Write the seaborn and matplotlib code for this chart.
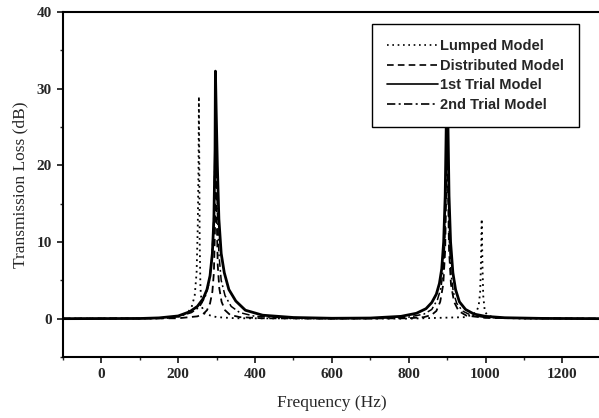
import numpy as np
import pandas as pd
import matplotlib
matplotlib.use("Agg")
import matplotlib.pyplot as plt
import seaborn as sns

# Values (frequency in Hz, transmission loss in dB)
lumped_freq = [-100, 150, 200, 225, 235, 243, 248, 251, 253, 254, 255, 256, 258, 262, 270, 300, 350,
               800, 950, 975, 982, 986, 988, 990, 992, 994, 998, 1005, 1030, 1100, 1300]
lumped_tl = [0, 0.02, 0.2, 0.8, 1.5, 3.0, 6.0, 12.0, 20.0, 29.0, 20.0, 10.0, 4.0, 1.5, 0.6, 0.2, 0.05,
             0.0, 0.2, 0.8, 1.6, 3.5, 7.0, 13.0, 7.0, 3.0, 1.0, 0.4, 0.1, 0.02, 0]

dist_freq = [-100, 200, 250, 265, 275, 283, 289, 293, 296, 298, 300, 303, 307, 313, 322, 335, 360, 420,
             600, 800, 840, 860, 872, 882, 890, 895, 898, 900, 902, 905, 910, 918, 930, 950, 1000, 1300]
dist_tl = [0, 0.05, 0.3, 0.6, 1.1, 2.0, 3.5, 6.0, 12.0, 29.0, 14.0, 7.0, 4.0, 2.2, 1.1, 0.5, 0.2, 0.05,
           0, 0.05, 0.2, 0.5, 1.0, 2.2, 4.5, 9.0, 18.0, 31.0, 18.0, 9.0, 4.5, 2.2, 1.0, 0.4, 0.1, 0]

trial1_freq = [-100, 100, 150, 200, 230, 250, 265, 275, 283, 289, 293, 296, 297, 299, 302, 306, 312,
               320, 332, 350, 375, 420, 500, 600, 700, 780, 820, 845, 860, 872, 880, 886, 891, 895,
               898, 900, 902, 905, 909, 915, 922, 932, 948, 970, 1000, 1050, 1150, 1300]
trial1_tl = [0, 0.02, 0.1, 0.35, 0.9, 1.6, 2.6, 3.8, 5.6, 8.5, 13.0, 22.0, 32.3, 27.0, 20.0, 13.0, 8.5,
             6.0, 3.8, 2.3, 1.1, 0.45, 0.15, 0.05, 0.08, 0.3, 0.7, 1.3, 2.1, 3.2, 4.6, 6.5, 10.0, 16.0,
             26.0, 35.0, 26.0, 16.0, 10.0, 6.0, 3.8, 2.2, 1.2, 0.6, 0.3, 0.12, 0.03, 0]

trial2_freq = [-100, 150, 200, 235, 255, 270, 280, 287, 292, 295, 297, 299, 302, 306, 312, 322, 338,
               360, 400, 500, 700, 800, 840, 860, 875, 884, 890, 894, 897, 900, 903, 906, 910, 916,
               925, 940, 962, 1000, 1100, 1300]
trial2_tl = [0, 0.05, 0.25, 0.8, 1.5, 2.8, 4.5, 7.5, 12.0, 19.0, 31.0, 22.0, 14.0, 8.5, 5.0, 3.0, 1.6,
             0.8, 0.3, 0.05, 0.05, 0.2, 0.6, 1.2, 2.5, 4.0, 6.5, 10.0, 17.0, 33.0, 17.0, 10.0, 6.0, 3.5,
             2.0, 1.0, 0.45, 0.15, 0.02, 0]

sns.set_style("ticks")
plt.rcParams["font.family"] = ["Liberation Serif", "DejaVu Serif"]

fig = plt.figure(figsize=(5.99, 4.18), dpi=100)
ax = fig.add_axes([0.105, 0.146, 0.898, 0.825])

sns.lineplot(x=lumped_freq, y=lumped_tl, ax=ax, color="black", linewidth=1.3,
             linestyle=(0, (1, 2.2)), label="Lumped Model", estimator=None, sort=False)
sns.lineplot(x=dist_freq, y=dist_tl, ax=ax, color="black", linewidth=1.3,
             linestyle=(0, (4, 2.5)), label="Distributed Model", estimator=None, sort=False)
sns.lineplot(x=trial2_freq, y=trial2_tl, ax=ax, color="black", linewidth=1.1,
             linestyle=(0, (5, 2, 1.2, 2)), label="2nd Trial Model", estimator=None, sort=False)
sns.lineplot(x=trial1_freq, y=trial1_tl, ax=ax, color="black", linewidth=2.0,
             linestyle="-", label="1st Trial Model", estimator=None, sort=False)

ax.set_xlim(-100, 1300)
ax.set_ylim(-5, 40)
ax.set_xticks([0, 200, 400, 600, 800, 1000, 1200])
ax.set_xticks(np.arange(-100, 1301, 100), minor=True)
ax.set_yticks([0, 10, 20, 30, 40])
ax.set_yticks(np.arange(-5, 41, 5), minor=True)

ax.tick_params(which="major", direction="out", length=4, width=1.3, labelsize=11, pad=4)
ax.tick_params(which="minor", direction="out", length=2.5, width=1.0)
for lab in ax.get_xticklabels() + ax.get_yticklabels():
    lab.set_fontweight("bold")

for side in ["left", "bottom", "top"]:
    ax.spines[side].set_linewidth(1.5)
    ax.spines[side].set_color("black")
ax.spines["right"].set_visible(False)
ax.spines["top"].set_visible(True)

ax.set_xlabel("Frequency (Hz)", fontsize=12.5, labelpad=10)
ax.set_ylabel("Transmission Loss (dB)", fontsize=12.5, labelpad=6)

handles, labels = ax.get_legend_handles_labels()
order = [labels.index(n) for n in ["Lumped Model", "Distributed Model", "1st Trial Model", "2nd Trial Model"]]
leg = ax.legend([handles[i] for i in order], [labels[i] for i in order],
                loc="upper right", bbox_to_anchor=(0.959, 0.965), borderaxespad=0,
                frameon=True, fancybox=False,
                edgecolor="black", framealpha=1, handlelength=3.5, handletextpad=0.15,
                labelspacing=0.4, borderpad=1.0,
                prop={"family": ["Liberation Sans", "DejaVu Sans"], "size": 10.5, "weight": "bold"})
leg.get_frame().set_linewidth(1.0)
for h in leg.get_lines():
    h.set_linewidth(1.2)

fig.savefig("out.png", dpi=100)
